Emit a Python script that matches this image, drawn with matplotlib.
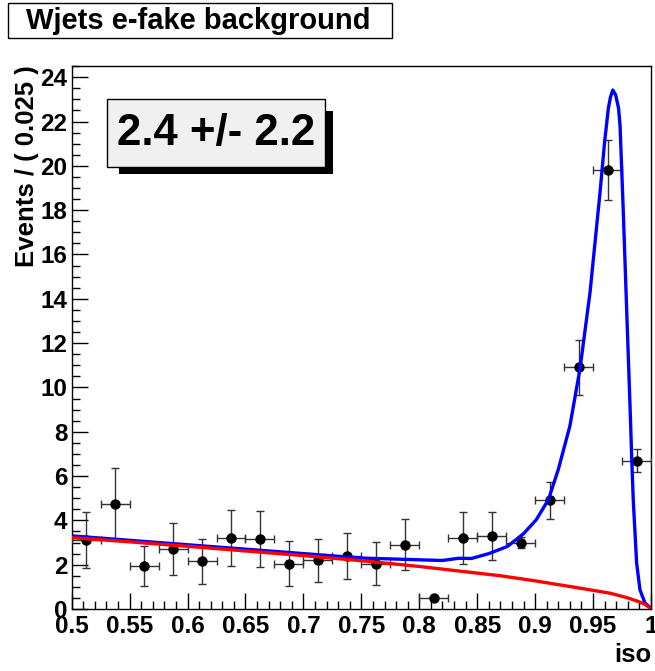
import matplotlib
matplotlib.use('Agg')
import matplotlib.pyplot as plt
from matplotlib.patches import Rectangle
from matplotlib.ticker import MultipleLocator

plt.rcParams['font.family'] = ['Liberation Sans', 'DejaVu Sans']
plt.rcParams['font.weight'] = 'bold'

# data points (bin centres, width 0.025)
bin_x = [0.5125, 0.5375, 0.5625, 0.5875, 0.6125, 0.6375, 0.6625, 0.6875, 0.7125, 0.7375,
         0.7625, 0.7875, 0.8125, 0.8375, 0.8625, 0.8875, 0.9125, 0.9375, 0.9625, 0.9875]
bin_y = [3.1, 4.75, 1.95, 2.7, 2.15, 3.2, 3.15, 2.05, 2.2, 2.4,
         2.05, 2.9, 0.48, 3.2, 3.3, 3.0, 4.9, 10.9, 19.8, 6.7]
bin_err = [1.27, 1.6, 0.9, 1.17, 1.03, 1.27, 1.27, 1.02, 0.98, 1.03,
           0.98, 1.15, 0.05, 1.17, 1.07, 0.24, 0.83, 1.23, 1.35, 0.5]

# total fit (blue)
tot_x = [0.5, 0.6, 0.7, 0.75, 0.8, 0.82, 0.834, 0.845, 0.86, 0.876, 0.89, 0.901, 0.9115,
         0.92, 0.93, 0.9388, 0.9474, 0.956, 0.96, 0.9632, 0.965, 0.967, 0.9695, 0.972,
         0.9733, 0.976, 0.979, 0.982, 0.9834, 0.9847, 0.9876, 0.9905, 0.9948, 1.0]
tot_y = [3.3, 2.9, 2.5, 2.3, 2.22, 2.19, 2.29, 2.28, 2.5, 2.82, 3.4, 4.03, 4.94,
         6.3, 8.26, 10.87, 14.3, 18.8, 21.1, 22.6, 23.1, 23.42, 23.2, 22.6,
         21.8, 18.05, 13.5, 9.0, 6.75, 4.9, 2.07, 0.86, 0.27, 0.03]

# background component (red)
bkg_x = [0.5, 0.55, 0.6, 0.65, 0.7, 0.75, 0.8, 0.835, 0.87, 0.9, 0.92, 0.94, 0.965,
         0.98, 0.988, 0.995, 1.0]
bkg_y = [3.22, 3.03, 2.83, 2.62, 2.41, 2.18, 1.92, 1.71, 1.5, 1.27, 1.1, 0.93, 0.71,
         0.5, 0.36, 0.21, 0.0]

fig = plt.figure(figsize=(6.55, 6.71), dpi=100)
W, H = 655.0, 671.0
ax = fig.add_axes([71.7 / W, 1 - 609 / H, (651 - 71.7) / W, (609 - 65.7) / H])

ax.errorbar(bin_x, bin_y, xerr=0.0125, yerr=bin_err, fmt='o', color='black',
            ecolor='#333333', elinewidth=1.0, capsize=3, capthick=1.0,
            markersize=6.5, zorder=3)
ax.plot(tot_x, tot_y, color='#0000ff', linewidth=2.4, zorder=4)
ax.plot(bkg_x, bkg_y, color='#ff0000', linewidth=2.4, zorder=5)

ax.set_xlim(0.5, 1.0)
ax.set_ylim(0, 24.52)
ax.xaxis.set_major_locator(MultipleLocator(0.05))
ax.xaxis.set_minor_locator(MultipleLocator(0.01))
ax.yaxis.set_major_locator(MultipleLocator(2))
ax.yaxis.set_minor_locator(MultipleLocator(0.5))
ax.set_xticks([0.5, 0.55, 0.6, 0.65, 0.7, 0.75, 0.8, 0.85, 0.9, 0.95, 1.0])
ax.set_xticklabels(['0.5', '0.55', '0.6', '0.65', '0.7', '0.75', '0.8', '0.85', '0.9', '0.95', '1'])
ax.tick_params(which='both', direction='in', top=False, right=False, labelsize=17.5,
               width=1.0)
ax.tick_params(which='major', length=11.5)
ax.tick_params(which='minor', length=5.8)
ax.tick_params(axis='x', pad=4)
ax.tick_params(axis='y', pad=3)
for lab in ax.get_xticklabels() + ax.get_yticklabels():
    lab.set_fontweight('bold')
for s in ax.spines.values():
    s.set_linewidth(1.0)

ax.set_ylabel('Events / ( 0.025 )', fontsize=18.5, fontweight='bold', loc='top', labelpad=1)
fig.text(651 / W, 1 - 655 / H, 'iso', fontsize=18.5, fontweight='bold',
         ha='right', va='center')

# title box
fig.add_artist(Rectangle((8 / W, 1 - 38 / H), (392 - 8) / W, 35 / H,
                         transform=fig.transFigure, facecolor='white',
                         edgecolor='black', linewidth=1.0))
fig.text(198 / W, 1 - 21 / H, 'Wjets e-fake background', fontsize=21,
         fontweight='bold', ha='center', va='center')

# result box with shadow
fig.add_artist(Rectangle((119 / W, 1 - 174.3 / H), (332.7 - 119) / W, (174.3 - 110.7) / H,
                         transform=fig.transFigure, facecolor='black',
                         edgecolor='black', linewidth=0, zorder=10))
fig.add_artist(Rectangle((107.3 / W, 1 - 166.7 / H), (325 - 107.3) / W, (166.7 - 99.3) / H,
                         transform=fig.transFigure, facecolor='#f0f0f0',
                         edgecolor='black', linewidth=1.0, zorder=11))
fig.text(216 / W, 1 - 134 / H, '2.4 +/- 2.2', fontsize=31.5, fontweight='bold',
         ha='center', va='center', zorder=12)

fig.savefig('out.png', dpi=100)
